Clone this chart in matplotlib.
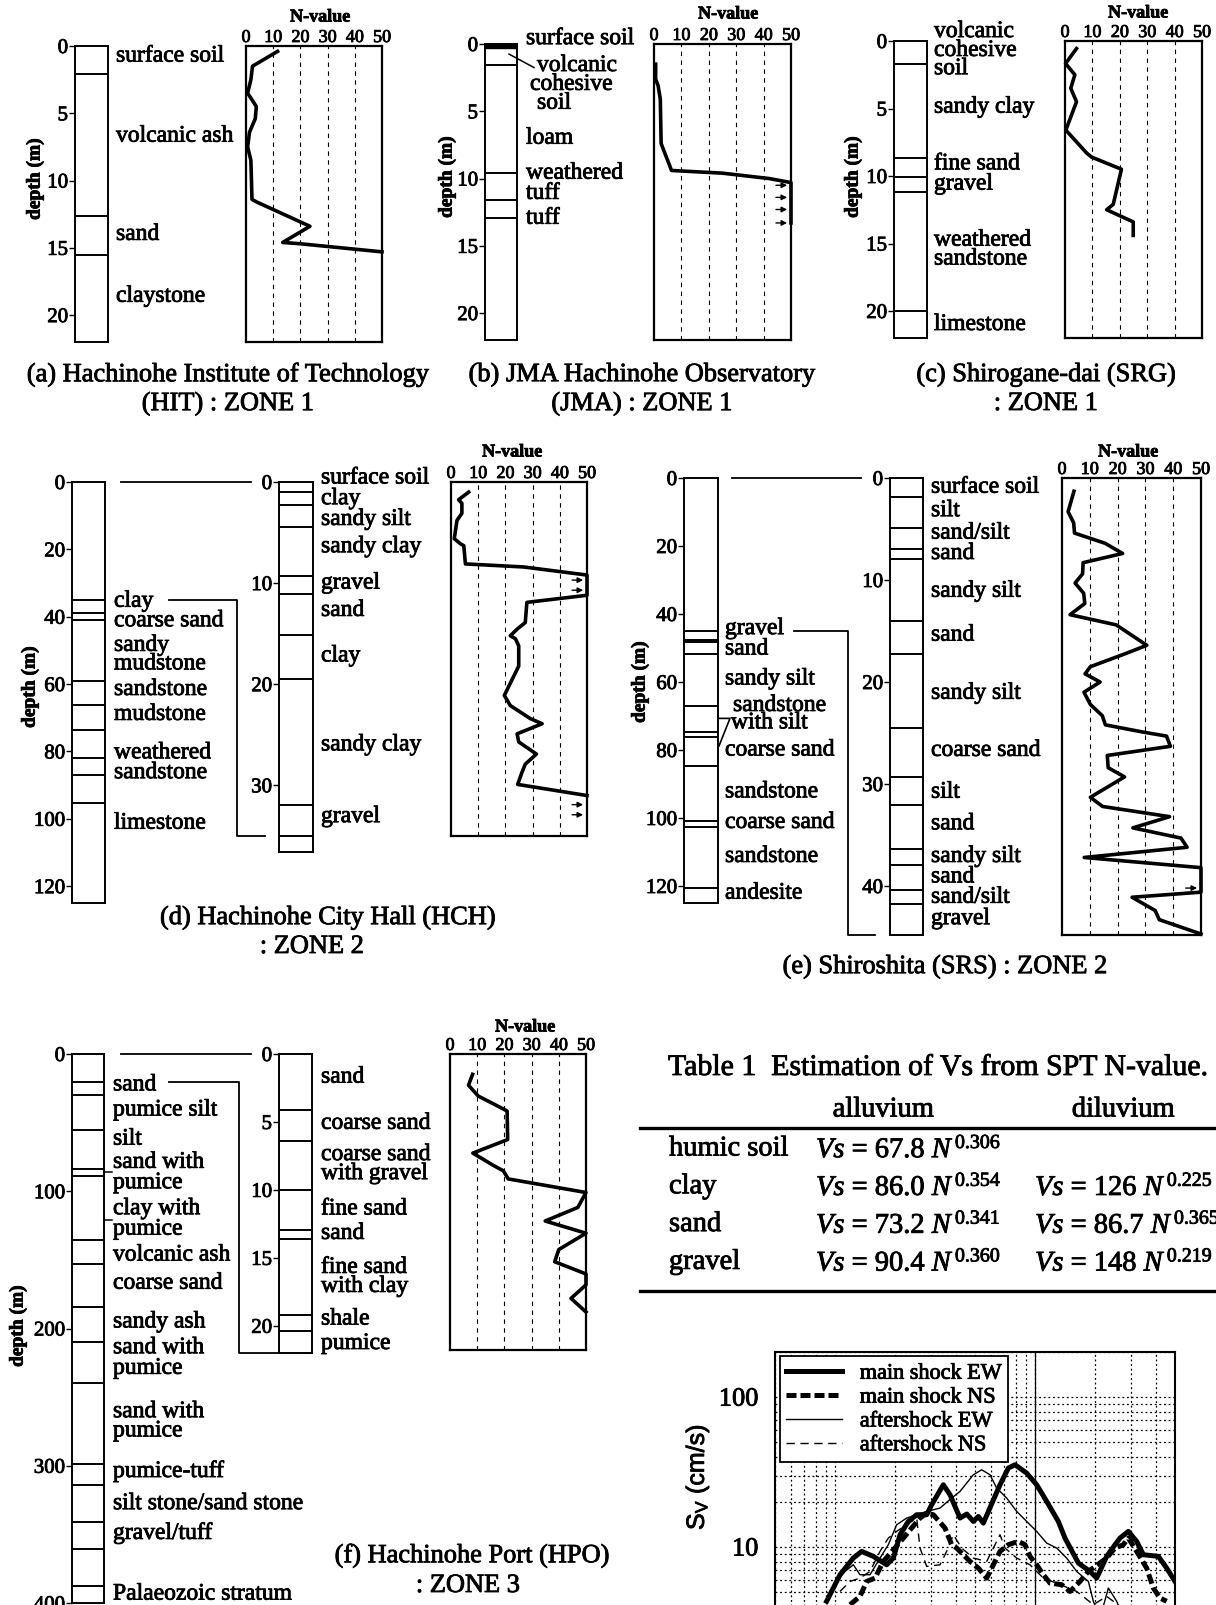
import matplotlib
matplotlib.use('Agg')
import matplotlib.pyplot as plt
import matplotlib.patheffects as pe
from matplotlib.lines import Line2D
from matplotlib.text import Text
from matplotlib.transforms import blended_transform_factory

W, H = 1216, 1606

# ---------------- data ----------------
# (a) Hachinohe Institute of Technology
a_bounds = [2.1, 12.6, 15.5]
a_names = ['surface soil', 'volcanic ash', 'sand', 'claystone']
a_name_d = [0.75, 6.7, 14.0, 18.6]
a_N = [11.6, 2.4, 1.8, 0.6, 3.8, 3.4, 1.3, 0.6, 1.8, 2.2, 4.0, 23.5, 13.5, 20.0, 50]
a_d = [0.4, 1.5, 2.5, 3.5, 4.5, 5.4, 6.4, 7.5, 8.5, 11.4, 11.6, 13.4, 14.6, 14.7, 15.3]

# (b) JMA Hachinohe Observatory
b_bounds = [1.55, 9.6, 11.6, 12.9]
b_names = ['surface soil', 'volcanic', 'cohesive', 'soil', 'loam', 'weathered', 'tuff', 'tuff']
b_name_d = [-0.4, 1.6, 3.0, 4.4, 7.0, 9.6, 11.1, 12.95]
b_N = [0.6, 0.6, 1.5, 2.3, 2.6, 6.4, 25, 42, 50, 50]
b_d = [1.5, 2.6, 3.1, 4.1, 7.4, 9.4, 9.6, 10.0, 10.3, 13.3]
b_arrows = [10.5, 11.4, 12.3, 13.3]

# (c) Shirogane-dai
c_bounds = [1.67, 8.7, 10.1, 11.2, 20.0]
c_names = ['volcanic', 'cohesive', 'soil', 'sandy clay', 'fine sand', 'gravel',
           'weathered', 'sandstone', 'limestone']
c_name_d = [-0.7, 0.7, 2.05, 4.9, 9.1, 10.6, 14.75, 16.15, 21.0]
c_N = [4.2, 0.2, 3.6, 2.1, 4.2, 0.3, 7.9, 9.7, 20.6, 17.6, 15.2, 24.9, 24.9]
c_d = [0.56, 1.67, 2.5, 3.5, 4.5, 6.6, 8.3, 8.6, 9.5, 12.1, 12.5, 13.4, 14.4]

# (d) Hachinohe City Hall
d_deep_bounds = [35.1, 38.9, 41.1, 59.1, 66.1, 73.7, 81.9, 87.0, 95.3]
d_deep_names = ['clay', 'coarse sand', 'sandy', 'mudstone', 'sandstone', 'mudstone',
                'weathered', 'sandstone', 'limestone']
d_deep_name_d = [35.4, 41.2, 48.5, 54.0, 61.6, 69.0, 80.4, 86.3, 101.3]
d_sh_bounds = [1.0, 2.3, 4.5, 9.3, 11.1, 15.1, 19.5, 32.0, 35.0]
d_sh_names = ['surface soil', 'clay', 'sandy silt', 'sandy clay', 'gravel', 'sand',
              'clay', 'sandy clay', 'gravel']
d_sh_name_d = [-0.4, 1.65, 3.7, 6.4, 10.0, 12.7, 17.2, 26.0, 33.1]
d_N = [6.5, 2.8, 4.0, 4.0, 2.2, 1.2, 3.4, 4.7, 5.3, 26.7, 50, 50, 27.9, 27.3, 24.5,
       21.8, 23.7, 24.9, 24.9, 19.6, 21.8, 29.2, 33.5, 24.3, 24.9, 31.4, 27.3, 26.1,
       24.5, 50]
d_d = [1.0, 1.75, 2.1, 3.1, 3.8, 5.6, 6.1, 6.3, 8.1, 8.4, 9.2, 11.2, 11.9, 13.9, 14.5,
       15.2, 15.5, 16.2, 18.2, 21.1, 22.1, 23.4, 23.9, 24.9, 25.7, 26.9, 27.9, 28.7,
       29.9, 31.0]
d_arrows = [9.7, 10.7, 31.9, 32.9]

# (e) Shiroshita
e_deep_bounds = [44.9, 47.5, 48.2, 51.7, 67.0, 74.6, 76.3, 84.6, 100.8, 102.7, 120.6]
e_deep_names = ['gravel', 'sand', 'sandy silt', 'sandstone', 'with silt', 'coarse sand',
                'sandstone', 'coarse sand', 'sandstone', 'andesite']
e_deep_name_d = [44.3, 50.3, 59.1, 66.9, 72.0, 80.0, 92.3, 101.3, 111.3, 122.1]
e_sh_bounds = [1.87, 4.86, 6.97, 7.92, 14.0, 17.3, 24.5, 29.3, 32.1, 36.4, 37.9, 40.4, 41.8]
e_sh_names = ['surface soil', 'silt', 'sand/silt', 'sand', 'sandy silt', 'sand',
              'sandy silt', 'coarse sand', 'silt', 'sand', 'sandy silt', 'sand',
              'sand/silt', 'gravel']
e_sh_name_d = [0.9, 3.2, 5.4, 7.4, 11.1, 15.4, 21.1, 26.7, 30.8, 33.9, 37.1, 39.1, 41.1, 43.2]
e_N = [4.3, 2.2, 4.2, 4.5, 15.5, 21.8, 7.6, 7.4, 4.7, 7.8, 8.2, 2.9, 19.5, 30.5, 23.0,
       10.2, 8.3, 13.7, 7.9, 10.2, 14.5, 15.6, 29.0, 37.6, 39.0, 16.3, 16.6, 22.5, 10.2,
       14.6, 38.7, 25.5, 42.8, 45.0, 8.0, 50, 50, 25.2, 33.5, 35.0, 50]
e_d = [1.3, 3.3, 4.4, 5.4, 6.4, 7.4, 8.3, 9.4, 10.3, 11.3, 12.3, 13.4, 14.4, 16.4, 17.2,
       18.5, 19.2, 20.0, 21.0, 22.2, 23.3, 24.2, 24.9, 25.3, 26.3, 27.2, 28.4, 29.3, 31.3,
       32.2, 33.2, 34.3, 35.3, 36.2, 37.2, 38.2, 40.6, 41.1, 42.4, 43.3, 44.7]
e_arrows = [40.2]

# (f) Hachinohe Port
f_deep_bounds = [20.3, 29.6, 55.5, 83.7, 88.7, 135.2, 153, 184.5, 209.9, 239.4, 298.6,
                 314, 340.8, 360.6, 387.9]
f_deep_names = ['sand', 'pumice silt', 'silt', 'sand with', 'pumice', 'clay with', 'pumice',
                'volcanic ash', 'coarse sand', 'sandy ash', 'sand with', 'pumice',
                'sand with', 'pumice', 'pumice-tuff', 'silt stone/sand stone',
                'gravel/tuff', 'Palaeozoic stratum']
f_deep_name_d = [22.5, 40.8, 62, 78.9, 93.8, 112.7, 127.6, 146.5, 167, 195.2, 214, 229,
                 260.6, 274.6, 304.2, 327.6, 349.3, 393.5]
f_sh_bounds = [4.1, 6.4, 10.0, 12.95, 13.6, 19.2, 20.4]
f_sh_names = ['sand', 'coarse sand', 'coarse sand', 'with gravel', 'fine sand', 'sand',
              'fine sand', 'with clay', 'shale', 'pumice']
f_sh_name_d = [1.7, 5.1, 7.4, 8.8, 11.4, 13.2, 15.7, 17.1, 19.5, 21.3]
f_N = [8.3, 6.8, 10.4, 17.2, 21.0, 21.2, 8.4, 15.9, 19.6, 21.4, 50, 47.0, 35.0, 50,
       40.0, 38.5, 50, 50, 44.5, 50]
f_d = [1.5, 2.3, 3.1, 3.8, 4.2, 6.3, 7.3, 8.2, 8.6, 9.2, 10.2, 11.3, 12.3, 13.2, 14.4,
       15.3, 16.2, 17.0, 18.0, 19.0]

# Table 1
tab_soils = ['humic soil', 'clay', 'sand', 'gravel']
tab_alluvium = [r'$Vs$ = 67.8 $N^{\,0.306}$', r'$Vs$ = 86.0 $N^{\,0.354}$',
                r'$Vs$ = 73.2 $N^{\,0.341}$', r'$Vs$ = 90.4 $N^{\,0.360}$']
tab_diluvium = ['', r'$Vs$ = 126 $N^{\,0.225}$', r'$Vs$ = 86.7 $N^{\,0.365}$',
                r'$Vs$ = 148 $N^{\,0.219}$']

# velocity response spectra (period s, Sv cm/s)
main_ew_T = [0.0906, 0.1057, 0.1232, 0.1356, 0.1551, 0.1808, 0.1953, 0.2109, 0.2321,
             0.2555, 0.2867, 0.3036, 0.3472, 0.375, 0.4207, 0.455, 0.4905, 0.52, 0.5504,
             0.6668, 0.7338, 0.7925, 0.9065, 1.017, 1.141, 1.305, 1.409, 1.644, 1.879,
             2.029, 2.277, 2.506, 2.655, 2.922, 3.216, 3.473, 4.128, 4.543, 5.0]
main_ew_S = [4.35, 6.54, 8.45, 9.36, 8.67, 7.62, 8.45, 12.08, 14.83, 16.43, 16.43, 19.15,
             26.04, 22.33, 15.61, 16.6, 14.83, 16.0, 14.45, 26.04, 33.63, 35.4, 31.14,
             26.04, 20.16, 14.83, 11.48, 7.82, 6.88, 6.21, 8.67, 10.37, 11.48, 12.72,
             10.91, 8.89, 8.67, 7.24, 5.9]
main_ns_T = [0.1186, 0.133, 0.1437, 0.1581, 0.174, 0.2191, 0.2411, 0.2655, 0.2867, 0.3095,
             0.354, 0.3823, 0.4048, 0.4721, 0.5197, 0.5719, 0.6174, 0.6668, 0.7338, 0.8235,
             0.8892, 0.9419, 1.017, 1.098, 1.186, 1.356, 1.493, 1.675, 1.844, 2.277, 2.506,
             2.759, 2.922, 3.216, 3.608, 3.896, 4.207, 4.543]
main_ns_S = [4.13, 4.69, 5.9, 6.21, 8.02, 11.48, 13.39, 15.61, 16.86, 16.43, 13.39, 10.37,
             9.85, 8.02, 7.24, 6.21, 7.62, 9.36, 10.37, 10.91, 10.37, 8.67, 7.62, 6.54, 5.75,
             5.61, 5.06, 5.9, 6.88, 8.45, 9.85, 10.37, 11.48, 9.36, 7.24, 5.33, 4.57, 4.35]
after_ew_T = [0.1017, 0.1119, 0.1232, 0.133, 0.1493, 0.1675, 0.1843, 0.2029, 0.2277,
              0.2555, 0.2867, 0.3342, 0.3823, 0.4207, 0.4905, 0.5399, 0.5943, 0.6418,
              0.7201, 0.8079, 0.9065, 1.017, 1.141, 1.28, 1.436, 1.612, 1.844, 1.953, 2.109,
              2.322, 2.555, 2.759, 3.216, 5.0]
after_ew_S = [5.9, 6.88, 7.62, 6.54, 6.54, 8.45, 10.37, 14.09, 15.61, 16.43, 17.29, 18.2,
              21.22, 23.5, 30.35, 32.77, 30.35, 24.74, 21.22, 17.29, 14.83, 12.72, 10.63,
              9.85, 8.45, 6.88, 5.9, 4.35, 3.36, 5.33, 4.35, 3.36, 2.6, 2.0]
after_ns_T = [0.1057, 0.1186, 0.133, 0.1493, 0.1675, 0.1843, 0.2029, 0.2277, 0.2555,
              0.2655, 0.2867, 0.3342, 0.3607, 0.3897, 0.4288, 0.4905, 0.5719, 0.6668,
              0.7063, 0.8079, 0.9419, 1.098, 1.336, 1.612, 1.953, 2.277, 2.866, 4.0]
after_ns_S = [5.06, 5.9, 6.21, 6.88, 9.36, 11.48, 12.72, 14.09, 15.61, 9.85, 7.43, 7.62,
              9.36, 12.08, 9.85, 8.45, 8.02, 12.08, 9.85, 8.45, 7.62, 6.21, 5.61, 5.06,
              4.13, 4.69, 3.73, 3.0]
legend_labels = ['main shock EW', 'main shock NS', 'aftershock EW', 'aftershock NS']

# ---------------- style ----------------
plt.rcParams['font.family'] = ['Liberation Serif', 'DejaVu Serif']
plt.rcParams['mathtext.fontset'] = 'custom'
plt.rcParams['mathtext.rm'] = 'Liberation Serif'
plt.rcParams['mathtext.it'] = 'Liberation Serif:italic'
plt.rcParams['mathtext.sf'] = 'Liberation Sans'

LBL = 17     # soil names
CAP = 19     # captions
TCK = 15     # depth ticks

fig = plt.figure(figsize=(W / 100, H / 100), dpi=100)


def box(x0, y0, x1, y1):
    return fig.add_axes([x0 / W, 1 - y1 / H, (x1 - x0) / W, (y1 - y0) / H])


def fy(ax, d):
    return ax.transData.transform((0, d))[1] / fig.bbox.height


def column(rect, bottom, bounds, ticks, names, depths, lx):
    ax = box(*rect)
    ax.set_xlim(0, 1)
    ax.set_ylim(bottom, 0)
    for d in bounds:
        ax.axhline(d, color='k', lw=1.4)
    ax.set_xticks([])
    ax.set_yticks(ticks)
    ax.tick_params(axis='y', length=4, width=1, pad=1, labelsize=TCK)
    for s in ax.spines.values():
        s.set_linewidth(1.4)
    tr = blended_transform_factory(fig.transFigure, ax.transData)
    if not isinstance(lx, list):
        lx = [lx] * len(names)
    for n, d, x in zip(names, depths, lx):
        ax.text(x / W, d, n, transform=tr, va='center', ha='left', fontsize=LBL)
    return ax


def npanel(rect, bottom, N, d, arrows, title_xy):
    ax = box(*rect)
    ax.set_xlim(0, 50)
    ax.set_ylim(bottom, 0)
    ax.xaxis.tick_top()
    ax.set_xticks([0, 10, 20, 30, 40, 50])
    ax.tick_params(axis='x', length=0, pad=0, labelsize=13)
    ax.set_yticks([])
    for s in ax.spines.values():
        s.set_linewidth(1.6)
    for v in [10, 20, 30, 40]:
        ax.axvline(v, color='k', lw=0.8, ls=(0, (4, 4)))
    ax.plot(N, d, color='k', lw=2.6, clip_on=False)
    for a in arrows:
        ax.annotate('', xy=(49.6, a), xytext=(43.5, a),
                    arrowprops=dict(arrowstyle='-|>', color='k', lw=1, mutation_scale=8))
    fig.text(title_xy[0] / W, 1 - (title_xy[1] - 2) / H, 'N-value', ha='center',
             va='center', fontsize=13, fontweight='bold')
    return ax


def ftext(x, y, s, **kw):
    kw.setdefault('ha', 'center')
    kw.setdefault('va', 'center')
    fig.text(x / W, 1 - y / H, s, **kw)


def depth_label(x, y):
    ftext(x, y, 'depth (m)', rotation=90, fontsize=14, fontweight='bold')


def fline(xs, ys, lw=1.3):
    fig.add_artist(Line2D([x / W for x in xs], ys, transform=fig.transFigure,
                          color='k', lw=lw))


# ---- (a)
ax = column((75, 47, 108, 343), 22, a_bounds, [0, 5, 10, 15, 20], a_names, a_name_d, 116)
npanel((246, 47, 382, 343), 22, a_N, a_d, [], (320, 20))
depth_label(35, 180)
ftext(228, 376, '(a) Hachinohe Institute of Technology', fontsize=CAP)
ftext(228, 405, '(HIT) : ZONE 1', fontsize=CAP)

# ---- (b)
ax = column((485, 45, 517, 341), 22, b_bounds, [0, 5, 10, 15, 20], b_names, b_name_d,
            [526, 537, 530, 537, 526, 526, 526, 526])
ax.axhspan(0, 0.3, color='k')
tr = blended_transform_factory(fig.transFigure, ax.transData)
ax.plot([509 / W, 534 / W], [0.75, 1.75], transform=tr, color='k', lw=1.1, clip_on=False)
npanel((654, 45, 791, 341), 22, b_N, b_d, b_arrows, (728, 17))
depth_label(447, 178)
ftext(642, 376, '(b) JMA Hachinohe Observatory', fontsize=CAP)
ftext(642, 405, '(JMA) : ZONE 1', fontsize=CAP)

# ---- (c)
column((894, 42, 927, 339), 22, c_bounds, [0, 5, 10, 15, 20], c_names, c_name_d, 934)
npanel((1065, 42, 1202, 339), 22, c_N, c_d, [], (1138, 16))
depth_label(853, 178)
ftext(1046, 376, '(c) Shirogane-dai (SRG)', fontsize=CAP)
ftext(1046, 405, ': ZONE 1', fontsize=CAP)

# ---- (d)
dd = column((72, 483, 105, 904), 125, d_deep_bounds, [0, 20, 40, 60, 80, 100, 120],
            d_deep_names, d_deep_name_d, 114)
ds = column((279, 483, 313, 853), 36.6, d_sh_bounds, [0, 10, 20, 30],
            d_sh_names, d_sh_name_d, 321)
npanel((451, 483, 587, 837), 35, d_N, d_d, d_arrows, (512, 455))
depth_label(30, 688)
fline([121, 251], [fy(dd, 0)] * 2)
fline([169, 237, 237, 265], [fy(dd, d_deep_bounds[0])] * 2 + [fy(ds, 35.0)] * 2)
ftext(328, 919, '(d) Hachinohe City Hall (HCH)', fontsize=CAP)
ftext(312, 948, ': ZONE 2', fontsize=CAP)

# ---- (e)
ed = column((684, 479, 718, 904), 125, e_deep_bounds, [0, 20, 40, 60, 80, 100, 120],
            e_deep_names, e_deep_name_d,
            [725, 725, 725, 733, 731, 725, 725, 725, 725, 725])
tr = blended_transform_factory(fig.transFigure, ed.transData)
ed.plot([718 / W, 730 / W, 719 / W], [70.7, 70.7, 78.8], transform=tr, color='k',
        lw=1.2, clip_on=False)
es = column((890, 479, 923, 936), 44.8, e_sh_bounds, [0, 10, 20, 30, 40],
            e_sh_names, e_sh_name_d, 931)
npanel((1062, 479, 1201, 936), 44.8, e_N, e_d, e_arrows, (1128, 455))
depth_label(640, 683)
fline([732, 861], [fy(ed, 0)] * 2)
fline([794, 848, 848, 875], [fy(ed, e_deep_bounds[0])] * 2 + [fy(es, 44.8)] * 2)
ftext(945, 968, '(e) Shiroshita (SRS) : ZONE 2', fontsize=CAP)

# ---- (f)
fd = column((72, 1055, 104, 1604), 400, f_deep_bounds, [0, 100, 200, 300, 400],
            f_deep_names, f_deep_name_d, 113)
tr = blended_transform_factory(fig.transFigure, fd.transData)
for d in [86.0, 121.0]:
    fd.plot([104 / W, 112 / W], [d, d], transform=tr, color='k', lw=1.1, clip_on=False)
fs = column((279, 1055, 312, 1354), 22, f_sh_bounds, [0, 5, 10, 15, 20],
            f_sh_names, f_sh_name_d, 321)
npanel((450, 1055, 586, 1351), 21.8, f_N, f_d, [], (525, 1030))
depth_label(18, 1327)
fline([121, 251], [fy(fd, 0)] * 2)
fline([169, 239, 239, 279], [fy(fd, f_deep_bounds[0])] * 2 + [fy(fs, 22)] * 2)
ftext(472, 1557, '(f) Hachinohe Port (HPO)', fontsize=CAP)
ftext(468, 1587, ': ZONE 3', fontsize=CAP)

# ---- Table 1
ftext(668, 1069, 'Table 1  Estimation of Vs from SPT N-value.', fontsize=21.5, ha='left')
ftext(883, 1111, 'alluvium', fontsize=20.5)
ftext(1123, 1111, 'diluvium', fontsize=20.5)
fline([640, 1216], [1 - 1129 / H] * 2, lw=2.4)
fline([640, 1216], [1 - 1292 / H] * 2, lw=2.4)
for i, (s, al, dl) in enumerate(zip(tab_soils, tab_alluvium, tab_diluvium)):
    y = 1150 + i * 37.8
    ftext(669, y, s, fontsize=20.5, ha='left')
    ftext(816, y, al, fontsize=20.5, ha='left')
    if dl:
        ftext(1035, y, dl, fontsize=20.5, ha='left')

# ---- velocity response spectra
sp = box(775, 1353, 1175, 1698)
sp.set_xscale('log')
sp.set_yscale('log')
sp.set_xlim(0.05, 5)
sp.set_ylim(1, 200)
sp.grid(True, which='both', color='k', lw=0.9, ls=(0, (1.5, 2.2)))
sp.axvline(1, color='k', lw=0.9)
for s in sp.spines.values():
    s.set_linewidth(1.5)
sp.plot(main_ew_T, main_ew_S, color='k', lw=3.6, label=legend_labels[0])
sp.plot(main_ns_T, main_ns_S, color='k', lw=3.6, ls=(0, (2, 0.8)), label=legend_labels[1])
sp.plot(after_ew_T, after_ew_S, color='k', lw=1.0, label=legend_labels[2])
sp.plot(after_ns_T, after_ns_S, color='k', lw=1.0, ls=(0, (6, 4)), label=legend_labels[3])
sp.set_yticks([10, 100])
sp.set_yticklabels(['10', '100'])
sp.yaxis.set_minor_formatter(plt.NullFormatter())
sp.tick_params(axis='y', which='both', length=0, pad=12, labelsize=19)
sp.tick_params(axis='x', which='both', length=0, labelbottom=False)
leg = sp.legend(loc='upper left', bbox_to_anchor=(0.012, 0.987), fontsize=16,
                frameon=True, fancybox=False, framealpha=1, edgecolor='k',
                handlelength=2.5, labelspacing=0.15, borderpad=0.3, handletextpad=0.8,
                borderaxespad=0)
leg.get_frame().set_linewidth(1.3)
ftext(697, 1478, r'S$_\mathsf{V}$ (cm/s)', rotation=90, fontsize=18,
      family=['Liberation Sans', 'DejaVu Sans'])

# heavier, scan-like text
fig.canvas.draw()
for t in fig.findobj(Text):
    t.set_path_effects([pe.withStroke(linewidth=0.6, foreground='k')])

fig.savefig('out.png', dpi=100)
